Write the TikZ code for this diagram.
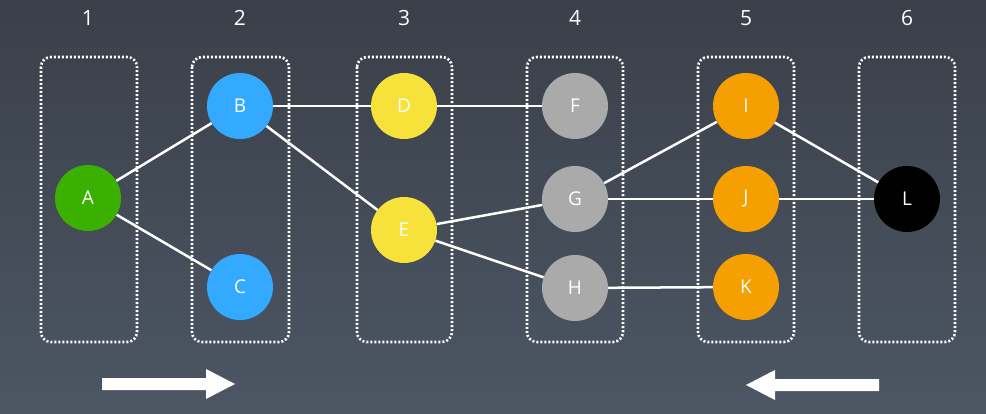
\documentclass[tikz,border=0pt]{standalone}
\usepackage{fontspec}
\setmainfont{Open Sans}
\usetikzlibrary{arrows.meta}
\definecolor{bgtop}{RGB}{58,64,73}
\definecolor{bgbot}{RGB}{76,86,100}
\definecolor{cgreen}{RGB}{58,176,0}
\definecolor{cblue}{RGB}{51,170,255}
\definecolor{cyellow}{RGB}{246,226,58}
\definecolor{cgray}{RGB}{170,170,170}
\definecolor{corange}{RGB}{245,160,0}
\tikzset{
  vtx/.style={circle, minimum size=66pt, inner sep=0pt, text=white, font=\fontsize{19}{19}\selectfont},
  grp/.style={draw=white, line width=2.6pt, dash pattern=on 2pt off 2pt, rounded corners=10pt},
  edge/.style={draw=white, line width=2.5pt},
  num/.style={text=white, font=\fontsize{21}{21}\selectfont},
  bigarrow/.style={draw=none, fill=white}
}
\begin{document}
\begin{tikzpicture}[x=1pt,y=-1pt]
\shade[top color=bgtop, bottom color=bgbot] (0,0) rectangle (986,414);
\useasboundingbox (0,0) rectangle (986,414);
% group boxes
\foreach \xl/\xr/\n in {41/137/1, 192/289/2, 357/452/3, 527/623/4, 698/794/5, 859/955/6}{
  \draw[grp] (\xl,57) rectangle (\xr,342);
}
% numbers
\node[num] (n1) at (88,18) {1};
\node[num] (n2) at (240,18) {2};
\node[num] (n3) at (404,18) {3};
\node[num] (n4) at (575,18) {4};
\node[num] (n5) at (746,18) {5};
\node[num] (n6) at (907,18) {6};
% vertices
\node[vtx, fill=cgreen] (A) at (88,198) {A};
\node[vtx, fill=cblue] (B) at (240,106) {B};
\node[vtx, fill=cblue] (C) at (240,287) {C};
\node[vtx, fill=cyellow] (D) at (404,106) {D};
\node[vtx, fill=cyellow] (E) at (404,230) {E};
\node[vtx, fill=cgray] (F) at (575,106) {F};
\node[vtx, fill=cgray] (G) at (575,199) {G};
\node[vtx, fill=cgray] (H) at (575,288) {H};
\node[vtx, fill=corange] (I) at (746,106) {I};
\node[vtx, fill=corange] (J) at (746,199) {J};
\node[vtx, fill=corange] (K) at (746,287) {K};
\node[vtx, fill=black] (L) at (907,199) {L};
% edges
\foreach \a/\b in {A/B, A/C, B/D, B/E, D/F, E/G, E/H, G/I, G/J, H/K, I/L, J/L}{
  \draw[edge] (\a) -- (\b);
}
% big arrows
\fill[white] (102,378) -- (206,378) -- (206,369) -- (235,384) -- (206,399) -- (206,390) -- (102,390) -- cycle;
\fill[white] (879,379) -- (775,379) -- (775,370) -- (746,385) -- (775,400) -- (775,391) -- (879,391) -- cycle;
\end{tikzpicture}
\end{document}
